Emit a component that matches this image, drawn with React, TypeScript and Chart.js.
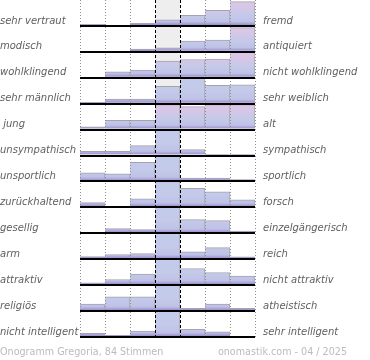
import React, { useEffect, useRef } from 'react';
import { Chart, registerables } from 'chart.js';

Chart.register(...registerables);

// ---- data ----
const columns = ['1', '2', '3', '4', '5', '6', '7'];

const leftLabels = [
  'sehr vertraut', 'modisch', 'wohlklingend', 'sehr männlich', ' jung', 'unsympathisch',
  'unsportlich', 'zurückhaltend', 'gesellig', 'arm', 'attraktiv', 'religiös', 'nicht intelligent',
];
const rightLabels = [
  'fremd', 'antiquiert', 'nicht wohlklingend', 'sehr weiblich', 'alt', 'sympathisch',
  'sportlich', 'forsch', 'einzelgängerisch', 'reich', 'nicht attraktiv', 'atheistisch', 'sehr intelligent',
];

// bar heights per row (row full height = 26 units; larger values are cut at the row top)
const rowVertraut = [1.7, 0, 2.7, 6, 10.7, 15.7, 24.3];
const rowModisch = [0, 0, 2.7, 4, 10.7, 11.7, 24.3];
const rowWohlklingend = [1, 6, 7.7, 16.7, 18.3, 18.7, 25.5];
const rowMaennlich = [1.3, 4.7, 4.7, 17.3, 25.5, 18.3, 19];
const rowJung = [2.7, 9.3, 9.3, 25, 23, 25, 25];
const rowSympathisch = [4.3, 4.3, 10, 36, 6, 1.3, 1.3];
const rowSportlich = [8.7, 7.7, 19.3, 34, 3.3, 3.3, 2];
const rowForsch = [4.7, 0, 8.5, 30, 19.2, 15.6, 7.5];
const rowGesellig = [1, 4.7, 3.7, 38, 13.7, 12.7, 2.3];
const rowReich = [2.7, 4.7, 5.7, 40, 7.3, 11.7, 2.3];
const rowAttraktiv = [2.3, 5.7, 11, 30, 16.7, 12.7, 9];
const rowReligioes = [7, 14.3, 14.3, 32, 2.7, 7, 2.7];
const rowIntelligent = [3.7, 1.7, 6, 44, 7.7, 5.3, 0];

const rows = [
  rowVertraut, rowModisch, rowWohlklingend, rowMaennlich, rowJung, rowSympathisch,
  rowSportlich, rowForsch, rowGesellig, rowReich, rowAttraktiv, rowReligioes, rowIntelligent,
];

const footerLeft = 'Onogramm Gregoria, 84 Stimmen';
const footerRight = 'onomastik.com - 04 / 2025';

const ROW_MAX = 26;

// ---- style ----
const pinkTopRows = [true, true, true, false, true, false, false, false, false, false, false, false, false];
const labelFont = { family: '"DejaVu Sans"', size: 10, style: 'italic' as const };
const labelColor = '#606060';

const makeFill = (rowIndex: number) => (c: any) => {
  const chart = c.chart;
  const s = chart.scales['r' + rowIndex];
  if (!s || !chart.chartArea) return '#c4cae9';
  const y0 = s.getPixelForValue(0);
  const y1 = s.getPixelForValue(ROW_MAX);
  const g = chart.ctx.createLinearGradient(0, y0, 0, y1);
  g.addColorStop(0, '#8a7bc0');
  g.addColorStop(0.08, '#a79fd5');
  g.addColorStop(0.17, '#bfc2e7');
  if (pinkTopRows[rowIndex]) {
    g.addColorStop(0.4, '#c4c9e9');
    g.addColorStop(0.85, '#dcc6e6');
    g.addColorStop(1, '#dfc6e6');
  } else {
    g.addColorStop(0.5, '#c4cae9');
    g.addColorStop(1, '#c2cbea');
  }
  return g;
};

const decorPlugin = {
  id: 'decor',
  beforeDatasetsDraw(chart: any) {
    const { ctx, chartArea, scales } = chart;
    const x = scales.x;
    const mid = Math.floor(columns.length / 2);
    const l = x.getPixelForValue(mid - 0.5);
    const r = x.getPixelForValue(mid + 0.5);
    ctx.save();
    ctx.fillStyle = '#eeeeee';
    ctx.fillRect(l, chartArea.top, r - l, chartArea.bottom - chartArea.top);
    ctx.restore();
  },
  afterDatasetsDraw(chart: any) {
    const { ctx, chartArea, scales } = chart;
    const x = scales.x;
    const mid = Math.floor(columns.length / 2);
    ctx.save();
    for (let i = 0; i <= columns.length; i++) {
      const px = Math.round(x.getPixelForValue(i - 0.5)) + 0.5;
      const center = i === mid || i === mid + 1;
      ctx.beginPath();
      ctx.strokeStyle = center ? '#000000' : '#909090';
      ctx.lineWidth = 1;
      ctx.setLineDash(center ? [3, 2] : [1, 2]);
      ctx.moveTo(px, chartArea.top);
      ctx.lineTo(px, chartArea.bottom);
      ctx.stroke();
    }
    ctx.restore();
  },
  afterDraw(chart: any) {
    const { ctx, chartArea, width } = chart;
    ctx.save();
    ctx.font = '9.6px "DejaVu Sans"';
    ctx.fillStyle = '#bbbbbb';
    ctx.textBaseline = 'alphabetic';
    const y = chartArea.bottom + 18;
    ctx.textAlign = 'left';
    ctx.fillText(footerLeft, 0, y);
    ctx.textAlign = 'right';
    ctx.fillText(footerRight, width - 23, y);
    ctx.restore();
  },
};

export default function App() {
  const ref = useRef<HTMLCanvasElement>(null);

  useEffect(() => {
    document.body.style.margin = '0';
    const canvas = ref.current;
    if (!canvas) return;

    const scales: any = {
      x: { type: 'category', labels: columns, display: false, offset: true },
      yl: {
        type: 'category',
        labels: leftLabels,
        position: 'left',
        offset: true,
        grid: { display: false, drawTicks: false },
        border: { display: false },
        ticks: { crossAlign: 'far', padding: 0, labelOffset: 8, color: labelColor, font: labelFont, autoSkip: false },
        afterFit: (s: any) => { s.width = 80; s.paddingTop = 0; s.paddingBottom = 0; },
      },
      yr: {
        type: 'category',
        labels: rightLabels,
        position: 'right',
        offset: true,
        grid: { display: false, drawTicks: false },
        border: { display: false },
        ticks: { crossAlign: 'near', padding: 8, labelOffset: 8, color: labelColor, font: labelFont, autoSkip: false },
        afterFit: (s: any) => { s.width = 115; s.paddingTop = 0; s.paddingBottom = 0; },
      },
    };
    rows.forEach((_, i) => {
      scales['r' + i] = {
        type: 'linear',
        position: 'right',
        stack: 'rows',
        stackWeight: 1,
        min: 0,
        max: ROW_MAX,
        ticks: { display: false, stepSize: ROW_MAX },
        grid: {
          drawTicks: false,
          z: 1,
          lineWidth: 2,
          color: (c: any) => (c.tick && c.tick.value === 0 ? '#000000' : 'rgba(0,0,0,0)'),
        },
        border: { display: false },
        afterFit: (s: any) => { s.paddingTop = 0; s.paddingBottom = 0; },
      };
    });

    const chart = new Chart(canvas, {
      type: 'bar',
      data: {
        labels: columns,
        datasets: rows.map((vals, i) => ({
          label: leftLabels[i].trim() + ' – ' + rightLabels[i],
          data: vals.map((v) => Math.min(v, ROW_MAX)),
          yAxisID: 'r' + i,
          xAxisID: 'x',
          grouped: false,
          barPercentage: 1,
          categoryPercentage: 1,
          backgroundColor: makeFill(i),
          borderColor: '#a4a4ae',
          borderWidth: { top: 1, right: 1, bottom: 0, left: 0 },
          borderSkipped: 'start',
        })),
      },
      options: {
        animation: false,
        responsive: false,
        maintainAspectRatio: false,
        layout: { padding: { top: -1, bottom: 23, left: 0, right: 0 } },
        plugins: { legend: { display: false }, tooltip: { enabled: false }, title: { display: false } },
        scales,
      } as any,
      plugins: [decorPlugin],
    });
    return () => chart.destroy();
  }, []);

  return (
    <div style={{ width: 370, height: 360 }}>
      <canvas ref={ref} width={370} height={360} style={{ display: 'block' }} />
    </div>
  );
}
